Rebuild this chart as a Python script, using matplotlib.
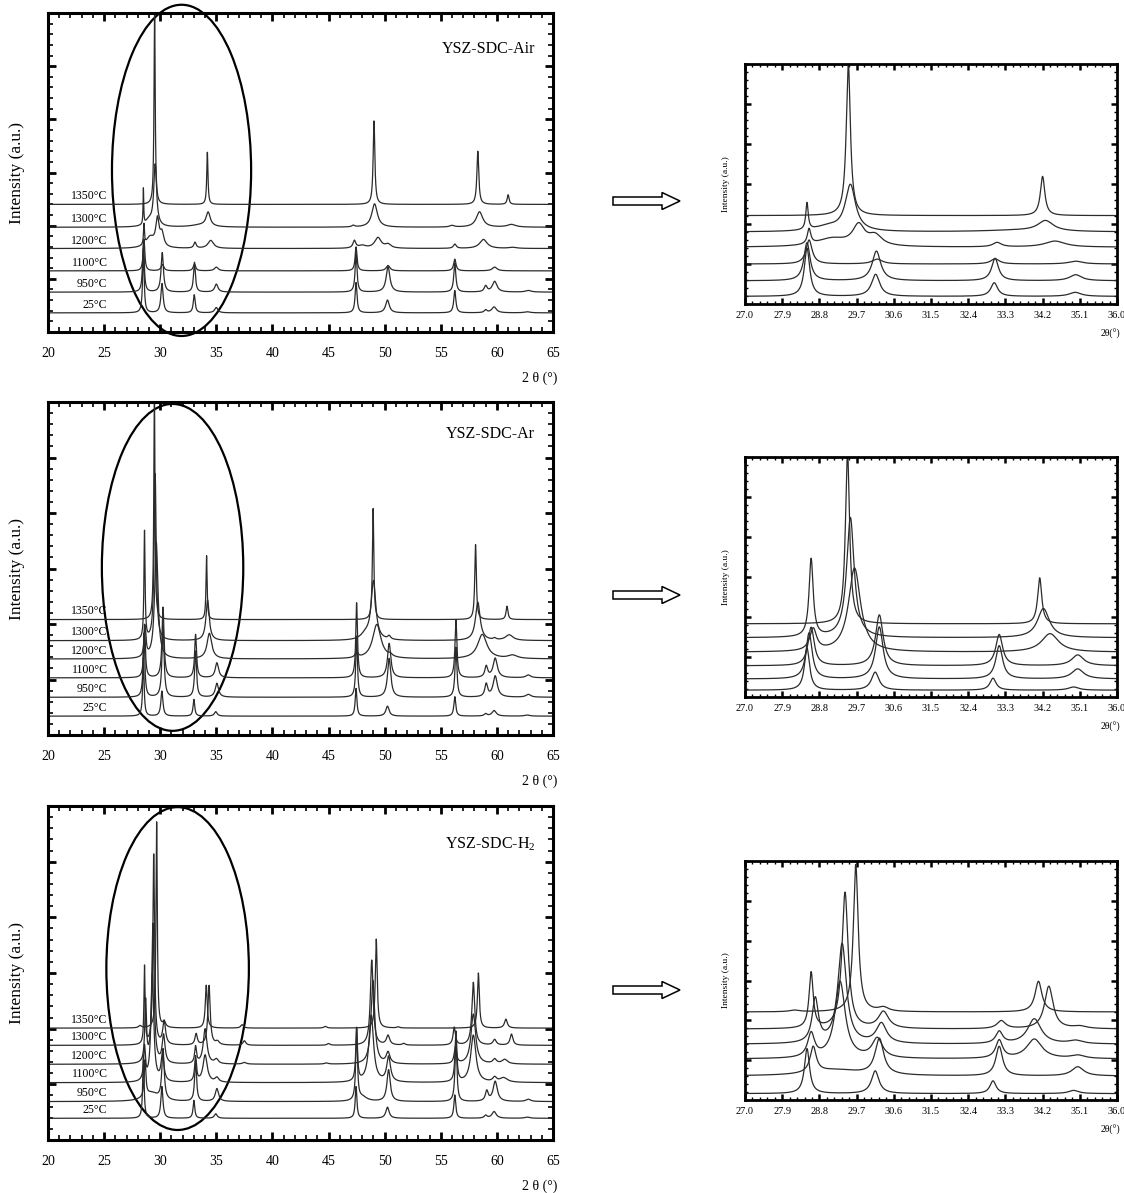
import numpy as np
import matplotlib
matplotlib.use("Agg")
import matplotlib.pyplot as plt
from matplotlib.patches import Ellipse, FancyArrow
from matplotlib.ticker import MultipleLocator

TEMPS = ["25°C", "950°C", "1100°C", "1200°C", "1300°C", "1350°C"]

# peaks: (2theta, height, fwhm); heights in axis units (axis = 0..6)
AIR_OFFSETS = [0.36, 0.75, 1.15, 1.57, 1.97, 2.40]
AIR_INSET_OFFSETS = [0.19, 0.58, 1.00, 1.42, 1.80, 2.21]
AIR_25 = [(28.5, 1.2, 0.16), (30.16, 0.55, 0.24), (33.03, 0.34, 0.2), (34.99, 0.1, 0.35),
          (47.45, 0.57, 0.2), (50.25, 0.24, 0.4), (56.25, 0.42, 0.22), (59.0, 0.05, 0.3),
          (59.75, 0.11, 0.5), (62.7, 0.02, 0.6)]
AIR_950 = [(28.5, 0.95, 0.18), (30.18, 0.74, 0.25), (33.05, 0.56, 0.2), (35.0, 0.15, 0.35),
           (47.45, 0.72, 0.2), (50.3, 0.48, 0.4), (56.25, 0.55, 0.22), (59.0, 0.11, 0.3),
           (59.8, 0.2, 0.5), (62.8, 0.03, 0.6)]
AIR_1100 = [(28.55, 0.6, 0.18), (30.2, 0.12, 0.3), (33.05, 0.13, 0.25), (35.0, 0.07, 0.4),
            (47.45, 0.45, 0.2), (50.3, 0.1, 0.4), (56.25, 0.22, 0.25), (59.8, 0.07, 0.5)]
AIR_1200 = [(28.55, 0.38, 0.1), (29.1, 0.2, 0.9), (29.75, 0.5, 0.35), (30.15, 0.25, 0.4),
            (33.1, 0.11, 0.25), (34.5, 0.15, 0.6), (47.3, 0.14, 0.3), (48.0, 0.05, 0.8),
            (49.4, 0.2, 0.7), (50.3, 0.07, 0.6), (56.25, 0.08, 0.3), (58.8, 0.17, 0.8),
            (61.4, 0.02, 0.8)]
AIR_1300 = [(28.5, 0.67, 0.07), (29.0, 0.12, 0.8), (29.55, 1.15, 0.3), (33.6, 0.04, 2.0),
            (34.27, 0.26, 0.45), (47.2, 0.03, 0.3), (49.1, 0.44, 0.6), (56.0, 0.03, 0.5),
            (58.45, 0.29, 0.7), (61.3, 0.05, 0.9)]
AIR_1350 = [(29.5, 3.8, 0.12), (34.2, 0.98, 0.13), (49.05, 1.57, 0.18), (58.3, 1.0, 0.2),
            (61.0, 0.18, 0.2)]

AR_OFFSETS = [0.34, 0.68, 1.03, 1.37, 1.70, 2.08]
AR_INSET_OFFSETS = [0.17, 0.45, 0.78, 1.12, 1.48, 1.83]
AR_25 = [(28.5, 1.05, 0.15), (30.15, 0.45, 0.22), (33.0, 0.3, 0.18), (34.95, 0.08, 0.3),
         (47.45, 0.5, 0.18), (50.25, 0.18, 0.35), (56.25, 0.35, 0.2), (59.0, 0.04, 0.3),
         (59.75, 0.1, 0.45), (62.7, 0.02, 0.5)]
AR_950 = [(28.55, 1.15, 0.18), (30.25, 1.3, 0.22), (33.15, 0.83, 0.2), (35.05, 0.25, 0.35),
          (47.5, 1.1, 0.18), (50.4, 0.7, 0.35), (56.35, 0.9, 0.2), (59.05, 0.23, 0.3),
          (59.85, 0.38, 0.45), (62.8, 0.05, 0.5)]
AR_1100 = [(28.6, 0.96, 0.18), (30.25, 1.27, 0.22), (33.15, 0.78, 0.2), (35.05, 0.27, 0.35),
           (47.5, 1.35, 0.18), (50.4, 0.62, 0.35), (56.35, 1.05, 0.2), (59.05, 0.2, 0.3),
           (59.85, 0.35, 0.45), (62.8, 0.05, 0.5)]
AR_1200 = [(28.65, 0.55, 0.2), (29.65, 2.1, 0.35), (34.38, 0.46, 0.5), (47.5, 0.1, 0.3),
           (49.3, 0.62, 0.9), (50.5, 0.04, 0.4), (58.7, 0.44, 1.0), (61.4, 0.06, 1.0)]
AR_1300 = [(28.6, 1.95, 0.12), (29.55, 3.0, 0.22), (34.22, 0.73, 0.35), (48.3, 0.1, 1.0),
           (49.0, 1.05, 0.5), (50.4, 0.06, 0.3), (58.3, 0.69, 0.5), (59.8, 0.03, 0.3),
           (61.1, 0.1, 0.8)]
AR_1350 = [(29.48, 4.3, 0.12), (34.13, 1.15, 0.12), (48.97, 2.0, 0.15), (58.1, 1.35, 0.17),
           (60.9, 0.24, 0.2)]

H2_OFFSETS = [0.39, 0.69, 1.03, 1.36, 1.70, 2.01]
H2_INSET_OFFSETS = [0.16, 0.60, 1.03, 1.40, 1.78, 2.21]
H2_25 = [(28.5, 1.13, 0.15), (30.15, 0.57, 0.22), (33.0, 0.32, 0.18), (34.95, 0.08, 0.3),
         (47.45, 0.57, 0.18), (50.25, 0.2, 0.35), (56.25, 0.42, 0.2), (59.0, 0.05, 0.3),
         (59.75, 0.12, 0.45), (62.7, 0.02, 0.5)]
H2_950 = [(28.65, 0.65, 0.18), (29.2, 0.15, 1.5), (30.25, 0.9, 0.25), (33.15, 0.74, 0.2),
          (35.05, 0.23, 0.35), (47.5, 1.28, 0.18), (48.0, 0.08, 1.0), (50.35, 0.57, 0.35),
          (56.35, 1.1, 0.2), (59.1, 0.18, 0.3), (59.85, 0.36, 0.45), (62.8, 0.04, 0.5)]
H2_1100 = [(28.6, 0.6, 0.2), (29.3, 1.93, 0.3), (30.2, 0.49, 0.3), (33.15, 0.45, 0.2),
           (34.0, 0.49, 0.45), (35.05, 0.08, 0.4), (47.5, 0.95, 0.18), (48.8, 1.2, 0.5),
           (50.35, 0.45, 0.4), (56.35, 0.9, 0.2), (57.9, 0.85, 0.55), (59.8, 0.08, 0.4),
           (60.6, 0.08, 0.8)]
H2_1200 = [(28.7, 1.1, 0.18), (29.35, 2.5, 0.25), (30.3, 0.5, 0.3), (33.15, 0.3, 0.2),
           (34.0, 0.63, 0.4), (35.0, 0.08, 0.4), (37.5, 0.03, 0.4), (44.8, 0.02, 0.4),
           (48.95, 1.5, 0.4), (50.3, 0.2, 0.4), (56.3, 0.3, 0.25), (57.9, 0.9, 0.5),
           (59.8, 0.08, 0.4), (60.7, 0.08, 0.6)]
H2_1300 = [(28.6, 1.4, 0.12), (29.42, 3.42, 0.18), (30.35, 0.42, 0.3), (33.2, 0.2, 0.25),
           (34.35, 1.07, 0.25), (35.1, 0.06, 0.4), (37.5, 0.08, 0.3), (45.0, 0.03, 0.3),
           (48.85, 1.53, 0.3), (50.3, 0.17, 0.35), (51.7, 0.03, 0.3), (56.2, 0.32, 0.25),
           (57.9, 1.13, 0.3), (59.8, 0.1, 0.35), (61.3, 0.2, 0.3)]
H2_1350 = [(28.2, 0.04, 0.3), (29.68, 3.7, 0.14), (30.35, 0.1, 0.3), (34.1, 0.77, 0.2),
           (37.3, 0.06, 0.3), (44.7, 0.03, 0.3), (49.25, 1.6, 0.2), (51.2, 0.02, 0.3),
           (58.35, 0.99, 0.2), (60.8, 0.16, 0.3)]

NAMES = ["YSZ-SDC-Air", "YSZ-SDC-Ar", "YSZ-SDC-H$_2$"]
PEAKS = [[AIR_25, AIR_950, AIR_1100, AIR_1200, AIR_1300, AIR_1350],
         [AR_25, AR_950, AR_1100, AR_1200, AR_1300, AR_1350],
         [H2_25, H2_950, H2_1100, H2_1200, H2_1300, H2_1350]]
OFFSETS = [AIR_OFFSETS, AR_OFFSETS, H2_OFFSETS]
INSET_OFFSETS = [AIR_INSET_OFFSETS, AR_INSET_OFFSETS, H2_INSET_OFFSETS]

plt.rcParams["font.family"] = ["Liberation Serif", "DejaVu Serif"]
plt.rcParams["mathtext.fontset"] = "custom"
plt.rcParams["mathtext.rm"] = "Liberation Serif"

W, H = 1124, 1193
LINE = "#2b2b2b"


def profile(x, peaks):
    y = np.zeros_like(x)
    for pos, h, w in peaks:
        g = (w / 2) ** 2
        y += h * g / ((x - pos) ** 2 + g)
    return y


def px_axes(fig, left, top, right, bottom):
    return fig.add_axes([left / W, 1 - bottom / H, (right - left) / W, (bottom - top) / H])


def style(ax, spine_w, major, minor):
    for s in ax.spines.values():
        s.set_linewidth(spine_w)
    ax.tick_params(which="both", direction="in", top=True, right=True, labelleft=False)
    ax.tick_params(which="major", length=major[0], width=major[1])
    ax.tick_params(which="minor", length=minor[0], width=minor[1])


fig = plt.figure(figsize=(W / 100, H / 100), dpi=100)

main_rows = [(13, 332), (402, 735), (806, 1140)]
inset_rows = [(64, 304), (457, 697), (861, 1100)]
ellipses = [(31.9, 3.04, 12.4, 6.23), (31.1, 3.02, 12.6, 5.89), (31.55, 3.08, 12.7, 5.8)]
name_y = [0.886, 0.905, 0.886]
arrow_y = [201, 595, 990]

x_main = np.linspace(20, 65, 4501)
x_zoom = np.linspace(27, 36, 3601)

for r in range(3):
    top, bottom = main_rows[r]
    ax = px_axes(fig, 48, top, 553, bottom)
    for k, temp in enumerate(TEMPS):
        off = OFFSETS[r][k]
        ax.plot(x_main, off + profile(x_main, PEAKS[r][k]), color=LINE, lw=0.9)
        ax.text(25.3, off + 0.15, temp, ha="right", va="center", fontsize=8.5)
    ax.set_xlim(20, 65)
    ax.set_ylim(0, 6)
    ax.set_xticks(np.arange(20, 66, 5))
    ax.xaxis.set_minor_locator(MultipleLocator(1))
    ax.set_yticks([1, 2, 3, 4, 5])
    ax.yaxis.set_minor_locator(MultipleLocator(0.2))
    style(ax, 2.2, (6, 2.0), (3.5, 1.2))
    ax.tick_params(axis="x", which="major", labelsize=10, pad=11)
    ax.set_ylabel("Intensity (a.u.)", fontsize=12.5)
    ax.yaxis.set_label_coords(-0.045, 0.5)
    ax.text(0.965, name_y[r], NAMES[r], transform=ax.transAxes, ha="right", va="center",
            fontsize=11.5)
    ax.text(1.008, -46 / (bottom - top), "2 θ (°)", transform=ax.transAxes, ha="right",
            va="center", fontsize=10)
    cx, cy, ew, eh = ellipses[r]
    ax.add_patch(Ellipse((cx, cy), ew, eh, fill=False, lw=1.6, ec="black", clip_on=False))

    # zoomed view of 27-36 degrees
    itop, ibottom = inset_rows[r]
    ax2 = px_axes(fig, 745, itop, 1117, ibottom)
    for k in range(len(TEMPS)):
        off = INSET_OFFSETS[r][k]
        ax2.plot(x_zoom, off + profile(x_zoom, PEAKS[r][k]), color=LINE, lw=0.9)
    ax2.set_xlim(27, 36)
    ax2.set_ylim(0, 6)
    xt = np.linspace(27, 36, 11)
    ax2.set_xticks(xt)
    ax2.set_xticklabels([f"{v:.1f}" for v in xt])
    ax2.xaxis.set_minor_locator(MultipleLocator(0.18))
    ax2.set_yticks([1, 2, 3, 4, 5])
    ax2.yaxis.set_minor_locator(MultipleLocator(0.2))
    style(ax2, 2.0, (4.5, 1.8), (2.5, 1.0))
    ax2.tick_params(axis="x", which="major", labelsize=7.5, pad=5)
    ax2.set_ylabel("Intensity (a.u.)", fontsize=6.8)
    ax2.yaxis.set_label_coords(-0.04, 0.5)
    ax2.text(1.01, -30 / (ibottom - itop), "2θ(°)", transform=ax2.transAxes, ha="right",
             va="center", fontsize=7)

    y_in = (H - arrow_y[r]) / 100
    fig.add_artist(FancyArrow(6.13, y_in, 0.67, 0, width=0.08, head_width=0.17,
                              head_length=0.18, length_includes_head=True, fc="white",
                              ec="black", lw=1.1, transform=fig.dpi_scale_trans))

fig.savefig("out.png", dpi=100)
